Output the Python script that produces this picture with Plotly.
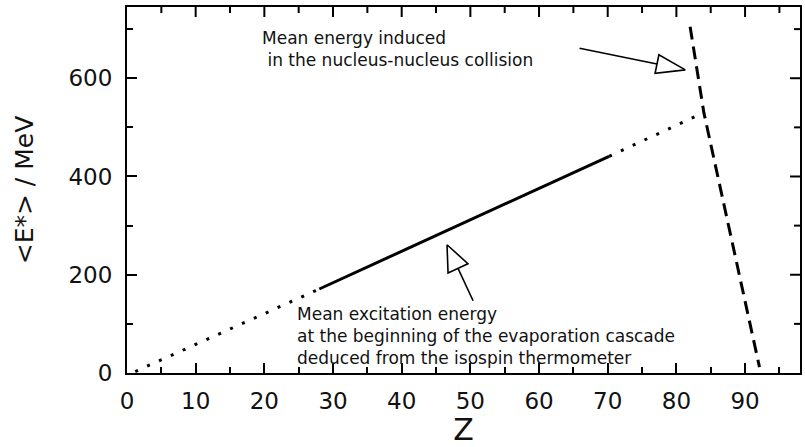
import plotly.graph_objects as go

# ---- data ----
exc_dot1_z = [1.2, 28.0]
exc_dot1_e = [3, 171]
exc_solid_z = [28.0, 70.2]
exc_solid_e = [171, 441]
exc_dot2_z = [70.2, 84.0]
exc_dot2_e = [441, 530]
coll_z = [82.0, 84.0, 92.1]
coll_e = [705, 530, 12]

arrow_up_tail = (65.9, 661)
arrow_up_tip = (81.3, 617)
arrow_lo_tail = (50.4, 147)
arrow_lo_tip = (46.6, 261)

label_up = ["Mean energy induced", "&nbsp;in the nucleus-nucleus collision"]
label_lo = ["Mean excitation energy",
            "at the beginning of the evaporation cascade",
            "deduced from the isospin thermometer"]

xr = [0, 98]
yr = [0, 745]
x_dtick, x_minor = 10, 5
y_dtick, y_minor = 200, 100

W, H = 805, 447
ml, mr, mt, mb = 127, 3, 7, 74
pw, ph = W - ml - mr, H - mt - mb
sx = pw / (xr[1] - xr[0])
sy = ph / (yr[1] - yr[0])

fig = go.Figure()
fig.add_trace(go.Scatter(x=exc_dot1_z, y=exc_dot1_e, mode="lines",
                         line=dict(color="black", width=3, dash="3px,10px")))
fig.add_trace(go.Scatter(x=exc_solid_z, y=exc_solid_e, mode="lines",
                         line=dict(color="black", width=3)))
fig.add_trace(go.Scatter(x=exc_dot2_z, y=exc_dot2_e, mode="lines",
                         line=dict(color="black", width=3, dash="3px,10px")))
fig.add_trace(go.Scatter(x=coll_z, y=coll_e, mode="lines",
                         line=dict(color="black", width=3, dash="13px,7px")))


def arrow(tail, tip, hl=29, hw=9.5):
    tx, ty = tail[0] * sx, tail[1] * sy
    px, py = tip[0] * sx, tip[1] * sy
    dx, dy = px - tx, py - ty
    L = (dx * dx + dy * dy) ** 0.5
    ux, uy = dx / L, dy / L
    bx, by = px - ux * hl, py - uy * hl
    nx, ny = -uy, ux
    p1 = (bx + nx * hw, by + ny * hw)
    p2 = (bx - nx * hw, by - ny * hw)
    fig.add_trace(go.Scatter(x=[tail[0], bx / sx], y=[tail[1], by / sy], mode="lines",
                             line=dict(color="black", width=1.6)))
    fig.add_trace(go.Scatter(x=[px / sx, p1[0] / sx, p2[0] / sx, px / sx],
                             y=[py / sy, p1[1] / sy, p2[1] / sy, py / sy],
                             mode="lines", fill="toself", fillcolor="white",
                             line=dict(color="black", width=1.6)))


arrow(arrow_up_tail, arrow_up_tip)
arrow(arrow_lo_tail, arrow_lo_tip, hl=26, hw=11)

# mirrored tick marks on the top and right frame, drawn as one line trace
tx, ty = [], []
for v in range(x_minor, int(xr[1]) + 1, x_minor):
    ln = (10 if v % x_dtick == 0 else 6) / sy
    tx += [v, v, None]
    ty += [yr[1], yr[1] - ln, None]
for v in range(y_minor, int(yr[1]) + 1, y_minor):
    ln = (10 if v % y_dtick == 0 else 6) / sx
    tx += [xr[1], xr[1] - ln, None]
    ty += [v, v, None]
fig.add_trace(go.Scatter(x=tx, y=ty, mode="lines", line=dict(color="black", width=2),
                         hoverinfo="skip", connectgaps=False))

font_txt = dict(family="DejaVu Sans", size=17, color="#111")
fig.add_annotation(x=19.4, y=(678 + 641) / 2, text="<br>".join(label_up), showarrow=False,
                   xanchor="left", yanchor="middle", align="left", font=font_txt)
fig.add_annotation(x=24.4, y=(112 + 37) / 2, text="<br>".join(label_lo), showarrow=False,
                   xanchor="left", yanchor="middle", align="left", font=font_txt)

tick_common = dict(ticks="inside", ticklen=10, tickwidth=2, tickcolor="black",
                   showgrid=False, zeroline=False)
axis_common = dict(showline=True, linecolor="black", linewidth=2, mirror=True,
                   tickfont=dict(family="DejaVu Sans", size=23, color="#111"), **tick_common)

fig.update_layout(
    xaxis=dict(range=xr, dtick=x_dtick, tick0=0,
               minor=dict(dtick=x_minor, ticks="inside", ticklen=6, tickwidth=2, tickcolor="black"),
               title=dict(text="Z", font=dict(family="DejaVu Sans", size=30, color="#111"), standoff=6),
               ticklabelstandoff=6, **axis_common),
    yaxis=dict(range=yr, dtick=y_dtick, tick0=0,
               minor=dict(dtick=y_minor, ticks="inside", ticklen=6, tickwidth=2, tickcolor="black"),
               title=dict(text="&lt;E*&gt; / MeV", font=dict(family="DejaVu Sans", size=25, color="#111"), standoff=28),
               ticklabelstandoff=8, **axis_common),
    width=W, height=H, margin=dict(l=ml, r=mr, t=mt, b=mb),
    plot_bgcolor="white", paper_bgcolor="white", showlegend=False)
fig.write_html("out.html")
